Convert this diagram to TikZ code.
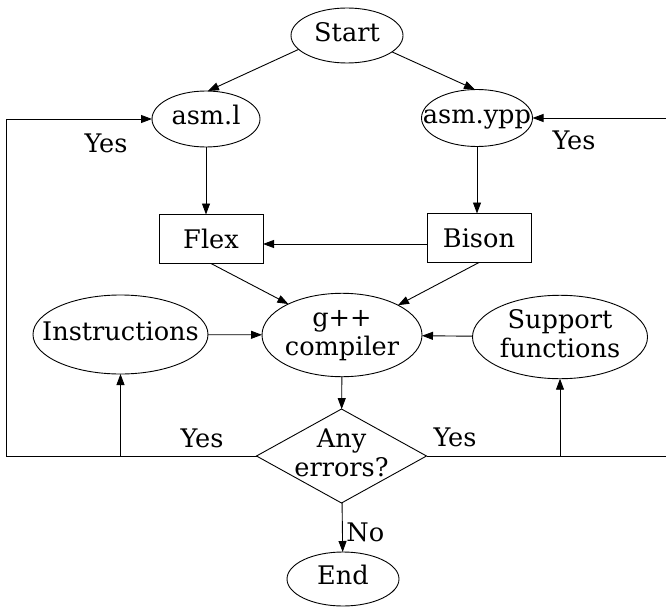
\documentclass[tikz,border=0pt]{standalone}
\usepackage{fontspec}
\setmainfont{DejaVu Serif}
\usetikzlibrary{shapes.geometric,arrows.meta}

% zero-width text so that node outlines keep their given sizes
\newcommand{\zw}[1]{\makebox[0pt]{\raisebox{-3pt}{\begin{tabular}{@{}c@{}}#1\end{tabular}}}}

\begin{document}
\begin{tikzpicture}[x=1pt,y=-1pt,
  font=\fontsize{25.6}{29.5}\selectfont,
  every node/.style={inner sep=0pt, outer sep=0pt},
  oval/.style={draw, ellipse, line width=0.9pt},
  proc/.style={draw, rectangle, line width=0.9pt, minimum width=104pt, minimum height=49pt},
  decide/.style={draw, diamond, line width=0.9pt, minimum width=170pt, minimum height=94pt},
  link/.style={line width=0.9pt, -{Triangle[length=11pt,width=8pt]}},
  wire/.style={line width=0.9pt}]
  \useasboundingbox (0,0) rectangle (666,607);

  % nodes
  \node[oval, minimum width=112pt, minimum height=55pt] (start) at (347,35.5) {\zw{Start}};
  \node[oval, minimum width=108pt, minimum height=56pt] (asml) at (206,119) {\zw{asm.l}};
  \node[oval, minimum width=111pt, minimum height=57pt] (asmypp) at (477,118) {\zw{asm.ypp}};
  \node[proc] (flex) at (211,239) {Flex};
  \node[proc] (bison) at (479,238) {Bison};
  \node[oval, minimum width=160pt, minimum height=82pt] (gpp) at (342,335) {\zw{g++\\compiler}};
  \node[oval, minimum width=175pt, minimum height=79pt] (instr) at (120.5,334.5) {\zw{Instructions}};
  \node[oval, minimum width=175pt, minimum height=79pt] (support) at (560,337) {\zw{Support\\functions}};
  \node[decide] (dia) at (341.5,456) {\zw{Any\\errors?}};
  \node[oval, minimum width=112pt, minimum height=54pt] (end) at (343,579) {\zw{End}};

  % loop-back corners at the picture edges
  \coordinate (lb) at (6,456);
  \coordinate (lt) at (6,119);
  \coordinate (rb) at (666,456);
  \coordinate (rt) at (666,118);

  % connectors
  \draw[link] (start.196) -- (asml.86);
  \draw[link] (start.340) -- (asmypp.94);
  \draw[link] (asml.south) -- (asml.south |- flex.north);
  \draw[link] (asmypp.south) -- (asmypp.south |- bison.north);
  \draw[link] ([yshift=-6pt]bison.west) -- ([yshift=-6pt]bison.west -| flex.east);
  \draw[link] (flex.south) -- (gpp.150);
  \draw[link] (bison.south) -- (gpp.28);
  \draw[link] (instr) -- (gpp);
  \draw[link] (support) -- (gpp);
  \draw[link] (gpp) -- (dia);
  \draw[link] (dia) -- node[right=4pt, pos=0.6] {No} (end);

  % error loops
  \draw[link] (dia.west) -- (lb) -- (lt) -- (asml.west);
  \draw[link] (instr.south |- lb) -- (instr.south);
  \draw[wire] (dia.east) -- (rb);
  \draw[link] (rt) -- (asmypp.east);
  \draw[link] (support.south |- rb) -- (support.south);

  % branch labels
  \node (y1) at (106,143) {Yes};
  \node (y2) at (574,140) {Yes};
  \node (y3) at (202,438) {Yes};
  \node (y4) at (455,437) {Yes};
\end{tikzpicture}
\end{document}
